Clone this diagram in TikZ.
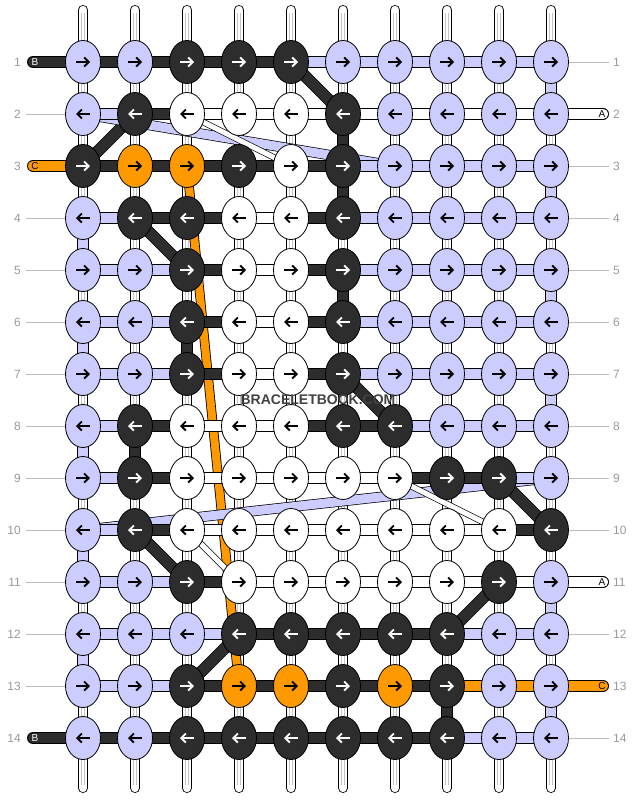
\documentclass[tikz,border=0pt]{standalone}
\usepackage{fontspec}
\setmainfont{Liberation Sans}
\usetikzlibrary{shapes.geometric,arrows.meta}

\definecolor{cL}{HTML}{CCCCFF}
\definecolor{cD}{HTML}{2D2D2D}
\definecolor{cW}{HTML}{FFFFFF}
\definecolor{cO}{HTML}{FF9900}
\colorlet{tL}{black}
\colorlet{tD}{white}
\colorlet{tW}{black}
\colorlet{tO}{black}
\definecolor{numgray}{HTML}{999999}
\definecolor{guidegray}{HTML}{BBBBBB}
\definecolor{warpgray}{HTML}{C4C4C4}

\begin{document}
\begin{tikzpicture}[x=1pt,y=-1pt,
		knot/.style={shape=ellipse, draw=black, line width=0.8pt, minimum width=35pt, minimum height=43pt, inner sep=0pt},
		band/.style={draw=black, line width=0.8pt, double=#1, double distance=10.4pt},
		thinband/.style 2 args={draw=black, line width=0.7pt, double=#1, double distance=#2},
		tail/.style={band=#1, line cap=round},
		warp/.style={draw=black, line width=0.8pt, double=white, double distance=8.4pt, line cap=round},
		warpcore/.style={draw=warpgray, line width=0.7pt, double=white, double distance=2.6pt, shorten >=3pt, shorten <=3pt},
		knotarrow/.style={line width=1.9pt, -{Straight Barb[length=4.5pt,width=9pt]}},
		rownum/.style={text=numgray, inner sep=0pt, font=\fontsize{12}{12}\selectfont},
		guide/.style={draw=guidegray, line width=0.8pt},
		taglabel/.style={inner sep=0pt, font=\fontsize{10}{10}\selectfont},
		watermark/.style={inner sep=0pt, font=\bfseries\fontsize{14}{14}\selectfont}]
	\useasboundingbox (0,0) rectangle (636,800);

	\foreach \r in {1,...,14}
		\foreach \c in {1,...,10}
			\coordinate (p\r-\c) at ({31+52*\c},{10+52*\r});

	\foreach \c in {1,...,10} {
		\coordinate (top\c) at ({31+52*\c},10);
		\coordinate (bot\c) at ({31+52*\c},788);
		\draw[warp] (top\c) -- (bot\c);
		\draw[warpcore] (top\c) -- (bot\c);
	}

	\draw[band=cO, double distance=8pt] (p3-3) -- (p13-4);
	\foreach \a/\b in {1-5/2-6, 3-1/2-2, 4-2/5-3, 7-6/8-7, 9-9/10-10, 10-2/11-3, 13-3/12-4, 12-8/11-9}
		\draw[band=cD] (p\a) -- (p\b);
	\foreach \a/\b in {2-1/3-7, 10-1/9-10}
		\draw[thinband={cL}{9pt}] (p\a) -- (p\b);
	\foreach \a/\b in {2-3/3-5, 9-7/10-9, 10-3/11-4}
		\draw[thinband={cW}{5pt}] (p\a) -- (p\b);

	\foreach \c/\r/\s in {1/4/L, 1/6/L, 1/8/L, 1/10/L, 1/12/L,
			10/1/L, 10/3/L, 10/5/L, 10/7/L, 10/11/L, 10/13/L,
			6/2/D, 6/3/D, 6/5/D, 3/6/D, 2/8/D, 8/13/D} {
		\pgfmathtruncatemacro{\rr}{\r+1}
		\draw[band=c\s] (p\r-\c) -- (p\rr-\c);
	}

	\foreach \r/\segs in {1/{D,D,D,D,L,L,L,L,L}, 2/{L,D,W,W,W,W,W,W,W}, 3/{D,D,D,D,D,L,L,L,L},
			4/{L,D,D,W,D,L,L,L,L}, 5/{L,L,D,W,D,L,L,L,L}, 6/{L,L,D,W,D,L,L,L,L},
			7/{L,L,D,W,D,L,L,L,L}, 8/{L,D,W,W,D,D,L,L,L}, 9/{L,D,W,W,W,W,D,D,L},
			10/{L,D,W,W,W,W,W,W,D}, 11/{L,L,D,W,W,W,W,W,W}, 12/{L,L,L,D,D,D,D,L,L},
			13/{L,L,D,D,D,D,D,O,O}, 14/{D,D,D,D,D,D,D,L,L}}
		\foreach \s [count=\c] in \segs {
			\pgfmathtruncatemacro{\d}{\c+1}
			\draw[band=c\s] (p\r-\c) -- (p\r-\d);
		};

	\foreach \r/\s/\t/\lt in {1/D/B/white, 3/O/C/black, 14/D/B/white} {
		\coordinate (lend\r) at (33,{10+52*\r});
		\draw[tail=c\s] (lend\r) -- (p\r-1);
		\node[taglabel, text=\lt] (ltag\r) at (35,{10+52*\r}) {\t};
	}
	\foreach \r/\s/\t in {2/W/A, 11/W/A, 13/O/C} {
		\coordinate (rend\r) at (603,{10+52*\r});
		\draw[tail=c\s] (p\r-10) -- (rend\r);
		\node[taglabel] (rtag\r) at (602,{10+52*\r}) {\t};
	}
	\foreach \r in {2,4,5,6,7,8,9,10,11,12,13} {
		\coordinate (lg\r) at (26,{10+52*\r});
		\draw[guide] (lg\r) -- (p\r-1);
	}
	\foreach \r in {1,3,4,5,6,7,8,9,10,12,14} {
		\coordinate (rg\r) at (609,{10+52*\r});
		\draw[guide] (p\r-10) -- (rg\r);
	}

	\foreach \r/\cols in {1/{L,L,D,D,D,L,L,L,L,L}, 2/{L,D,W,W,W,D,L,L,L,L}, 3/{D,O,O,D,W,D,L,L,L,L},
			4/{L,D,D,W,W,D,L,L,L,L}, 5/{L,L,D,W,W,D,L,L,L,L}, 6/{L,L,D,W,W,D,L,L,L,L},
			7/{L,L,D,W,W,D,L,L,L,L}, 8/{L,D,W,W,W,D,D,L,L,L}, 9/{L,D,W,W,W,W,W,D,D,L},
			10/{L,D,W,W,W,W,W,W,W,D}, 11/{L,L,D,W,W,W,W,W,D,L}, 12/{L,L,L,D,D,D,D,D,L,L},
			13/{L,L,D,O,O,D,O,D,L,L}, 14/{L,L,D,D,D,D,D,D,L,L}} {
		\pgfmathtruncatemacro{\dir}{ifthenelse(mod(\r,2)==1,1,-1)}
		\foreach \k [count=\c] in \cols {
			\node[knot, fill=c\k] (k\r-\c) at (p\r-\c) {};
			\draw[knotarrow, draw=t\k] (k\r-\c.center) ++({-7*\dir},0) -- ++({14*\dir},0);
		}
		\node[rownum, anchor=east] (lnum\r) at (21,{10+52*\r}) {\r};
		\node[rownum, anchor=west] (rnum\r) at (613,{10+52*\r}) {\r};
	}

	\node[watermark, text=cD!90] (wmark) at (318,400) {BRACELETBOOK.COM};
\end{tikzpicture}
\end{document}
